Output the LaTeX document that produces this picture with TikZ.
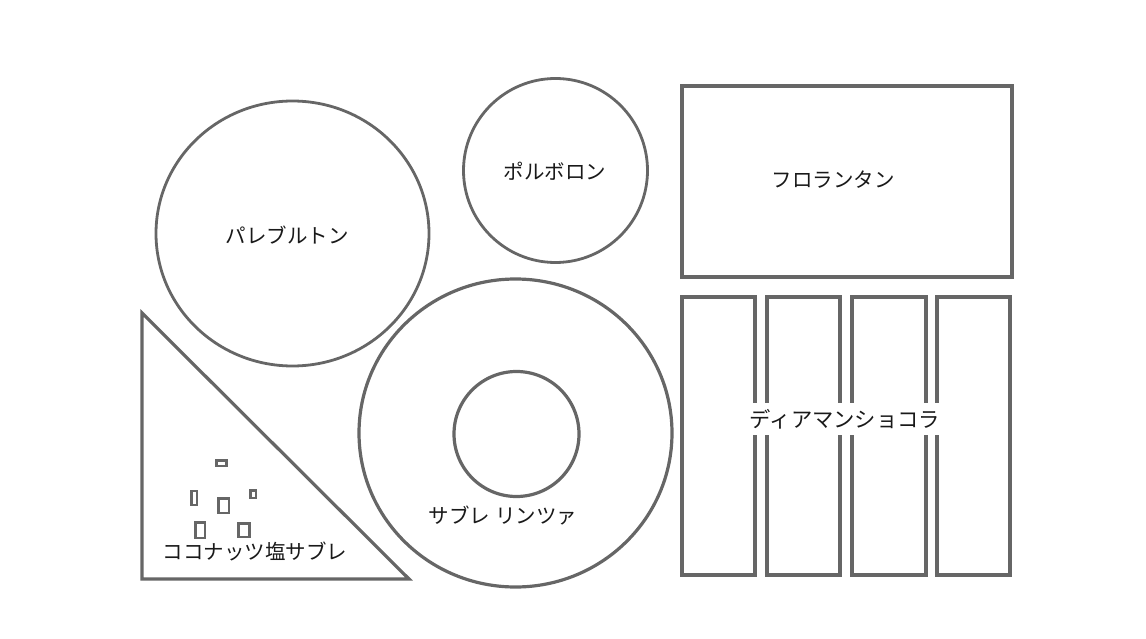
\documentclass[tikz,border=0pt]{standalone}
\usepackage{fontspec}
\setmainfont{Noto Sans CJK JP}
\begin{document}
\begin{tikzpicture}[x=1pt,y=-1pt,
  boxline/.style={draw=black!60, line width=3.2pt},
  ringline/.style={draw=black!60, line width=2.8pt},
  bitline/.style={draw=black!60, line width=2.8pt},
  lbl/.style={font=\fontsize{20.5}{22}\selectfont, text=black!90, inner sep=0pt}]
\useasboundingbox (0,0) rectangle (1146,639);
% circles
\draw[ringline] (292.5,233.5) ellipse [x radius=136.5, y radius=132.5];
\draw[ringline] (555.5,170.5) circle [radius=92];
\draw[boxline] (515.5,433) ellipse [x radius=156.5, y radius=154];
\draw[boxline] (516.5,434) circle [radius=62.5];
% rectangles
\draw[boxline] (682,86) rectangle (1012,277);
\draw[boxline] (682,297) rectangle (755,575);
\draw[boxline] (767,297) rectangle (840,575);
\draw[boxline] (852,297) rectangle (926,575);
\draw[boxline] (937,297) rectangle (1010,575);
% triangle
\draw[boxline, line join=miter] (142,313) -- (142,579) -- (409,579) -- cycle;
% small rectangles
\draw[bitline] (216.5,460.5) rectangle (226.5,466);
\draw[bitline] (191.5,491) rectangle (197,505);
\draw[bitline] (218.5,498.5) rectangle (229,513);
\draw[bitline] (250.5,490.5) rectangle (256,498);
\draw[bitline] (195.5,522.5) rectangle (205,538);
\draw[bitline] (238.5,523.5) rectangle (249.5,537);
% labels
\node[lbl] (pale) at (287,235) {パレブルトン};
\node[lbl] (polv) at (555,171) {ポルボロン};
\node[lbl] (flor) at (833,180) {フロランタン};
\node[lbl, fill=white, inner xsep=1pt, inner ysep=6pt, font=\fontsize{21.3}{23}\selectfont] (diam) at (845,419) {ディアマンショコラ};
\node[lbl] (linz) at (503,516) {サブレ リンツァ};
\node[lbl] (coco) at (255,551) {ココナッツ塩サブレ};
\end{tikzpicture}
\end{document}
